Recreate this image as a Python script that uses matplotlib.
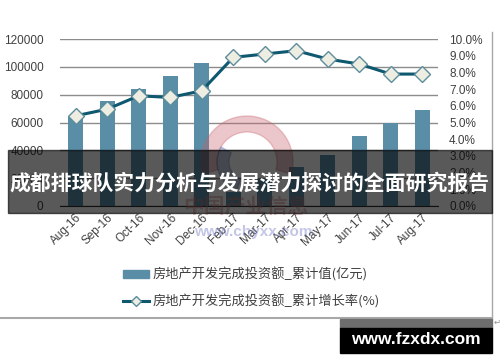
#!/usr/bin/python3
"""
Real estate investment chart (cumulative value and growth rate).
"""
import matplotlib
matplotlib.use('Agg')
import matplotlib.pyplot as plt
from matplotlib.patches import Rectangle, Wedge
from matplotlib.lines import Line2D
from matplotlib.ticker import FuncFormatter

# chart data
months = ['Aug-16', 'Sep-16', 'Oct-16', 'Nov-16', 'Dec-16', 'Feb-17',
          'Mar-17', 'Apr-17', 'May-17', 'Jun-17', 'Jul-17', 'Aug-17']
invest_total = [64706, 75097, 83785, 93387, 102581, 9854,
                19292, 27732, 36837, 50610, 59761, 69219]
growth_rate = [5.4, 5.8, 6.6, 6.5, 6.9, 8.9,
               9.1, 9.3, 8.8, 8.5, 7.9, 7.9]
bar_label = '房地产开发完成投资额_累计值(亿元)'
line_label = '房地产开发完成投资额_累计增长率(%)'
banner_title = '成都排球队实力分析与发展潜力探讨的全面研究报告'
site_text = 'www.fzxdx.com'

BAR_COLOR = '#5a8ea7'
LINE_COLOR = '#0e5870'
TEXT_COLOR = '#404040'

plt.rcParams['font.family'] = ['Liberation Sans', 'Noto Sans CJK SC']

W, H = 500, 362
fig = plt.figure(figsize=(W / 100, H / 100), dpi=100)


def fx(px):
    return px / W


def fy(py):
    return 1 - py / H


ax = fig.add_axes([fx(60), fy(206), fx(438) - fx(60), fy(39) - fy(206)])
x = list(range(len(months)))
ax.bar(x, invest_total, width=0.48, color=BAR_COLOR, zorder=2)
ax.set_xlim(-0.5, len(months) - 0.5)
ax.set_ylim(0, 120000)
ax.set_yticks(range(0, 120001, 20000))
ax.yaxis.grid(True, color='#8c8c8c', linewidth=1, zorder=0)
ax.set_axisbelow(True)
for s in ['top', 'right', 'left']:
    ax.spines[s].set_visible(False)
ax.spines['bottom'].set_color('#303030')
ax.tick_params(axis='both', length=0, labelsize=8.5, labelcolor=TEXT_COLOR)
ax.tick_params(axis='y', pad=12)
ax.set_xticks(x)
ax.set_xticklabels(months, rotation=45, ha='right', rotation_mode='anchor')
ax.tick_params(axis='x', pad=4)

ax2 = ax.twinx()
ax2.plot(x, growth_rate, color=LINE_COLOR, linewidth=2.2, marker='D',
         markersize=8, markerfacecolor='#eeede2', markeredgecolor='#5d8d9c',
         markeredgewidth=1, zorder=3)
ax2.set_ylim(0, 10)
ax2.set_yticks(range(0, 11))
ax2.yaxis.set_major_formatter(FuncFormatter(lambda v, p: '{:.1f}%'.format(v)))
for s in ['top', 'right', 'left', 'bottom']:
    ax2.spines[s].set_visible(False)
ax2.tick_params(axis='y', length=0, labelsize=8.5, labelcolor=TEXT_COLOR,
                pad=8)

# legend
handles = [Rectangle((0, 0), 1, 1, color=BAR_COLOR),
           Line2D([], [], color=LINE_COLOR, linewidth=2.2, marker='D',
                  markersize=5.5, markerfacecolor='#eeede2',
                  markeredgecolor='#5d8d9c')]
fig.legend(handles, [bar_label, line_label], loc='upper left',
           bbox_to_anchor=(fx(116), fy(261)), frameon=False, borderpad=0,
           handlelength=2.0, handleheight=0.6, handletextpad=0.3,
           labelspacing=0.95, prop={'family': 'Noto Sans CJK SC',
                                    'size': 9.5})
for t in fig.legends[0].get_texts():
    t.set_color(TEXT_COLOR)

# watermark (drawn in inches so the ring stays round)
inch = fig.dpi_scale_trans
fig.patches.append(Wedge((2.47, 3.62 - 1.62), 0.46, -15, 195, width=0.16,
                         transform=inch, color='#c8606a', alpha=0.35,
                         zorder=5))
fig.patches.append(Wedge((2.47, 3.62 - 1.62), 0.30, 150, 250, width=0.12,
                         transform=inch, color='#5a6ab0', alpha=0.35,
                         zorder=5))
fig.text(fx(246), fy(207), '中国产业信息', fontsize=15, fontweight='bold',
         color='#d07878', alpha=0.45, ha='center', va='center',
         family='Noto Sans CJK SC', zorder=5)
fig.text(fx(253), fy(232), 'www.chyxx.com', fontsize=11, fontweight='bold',
         color='#7a82c8', alpha=0.45, ha='center', va='center', zorder=5)

# frame lines
fig.add_artist(Line2D([0, fx(492)], [fy(318), fy(318)],
                      color='#a8a8a8', linewidth=1.5))
fig.add_artist(Line2D([fx(492), fx(492)], [fy(32), fy(318)],
                      color='#a8a8a8', linewidth=1))
fig.text(fx(494), fy(322), '↵', fontsize=6, color='#909090',
         family='DejaVu Sans', ha='left', va='center')

# dark banner with title
fig.patches.append(Rectangle((fx(8), fy(213)), fx(484), fy(150) - fy(213),
                             transform=fig.transFigure, color='black',
                             alpha=0.65, zorder=10))
fig.text(0.5, fy(183), banner_title, fontsize=15, fontweight='bold',
         color='white', ha='center', va='center',
         family='Noto Sans CJK SC', zorder=11)

# site box
fig.patches.append(Rectangle((fx(340), fy(328)), fx(152), fy(319) - fy(328),
                             transform=fig.transFigure, color='#6e6e6e',
                             zorder=10))
fig.patches.append(Rectangle((fx(340), fy(353)), fx(152), fy(328) - fy(353),
                             transform=fig.transFigure, color='black',
                             zorder=10))
fig.text(fx(416), fy(340), site_text, fontsize=12.5, fontweight='bold',
         color='white', ha='center', va='center', zorder=11)

fig.savefig('out.png', dpi=100)
